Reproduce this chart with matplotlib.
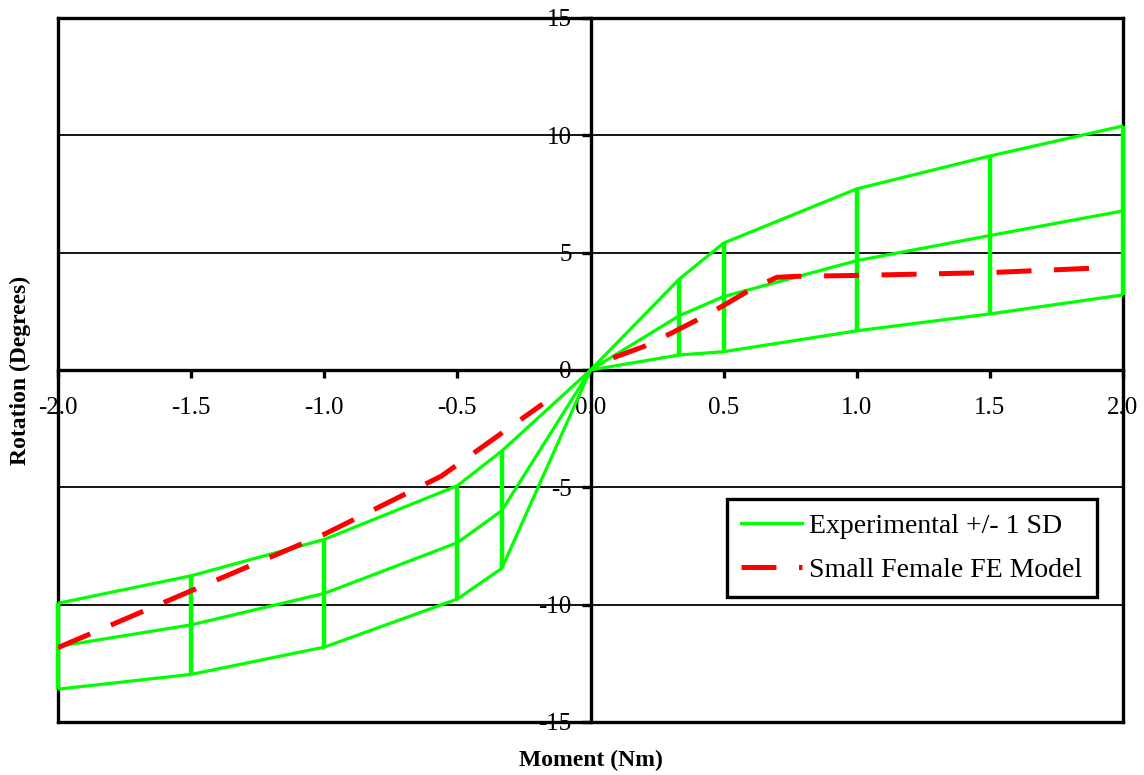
import matplotlib
matplotlib.use("Agg")
import matplotlib.pyplot as plt
import numpy as np

# ---- data ----
moment = [-2.0, -1.5, -1.0, -0.5, -0.333, 0.0, 0.333, 0.5, 1.0, 1.5, 2.0]
exp_mean = [-11.78, -10.86, -9.52, -7.36, -5.99, 0.0, 2.31, 3.13, 4.66, 5.73, 6.78]
exp_upper = [-9.94, -8.77, -7.22, -4.93, -3.45, 0.0, 3.87, 5.41, 7.72, 9.12, 10.40]
exp_lower = [-13.60, -12.97, -11.81, -9.76, -8.45, 0.0, 0.64, 0.78, 1.67, 2.39, 3.20]

fe_moment_neg = [-2.0, -1.5, -1.0, -0.56, -0.18]
fe_rot_neg = [-11.83, -9.41, -7.0, -4.52, -1.45]
fe_moment_pos = [0.085, 0.2, 0.3, 0.4, 0.5, 0.6, 0.7, 0.77, 1.0, 1.5, 1.91]
fe_rot_pos = [0.52, 1.0, 1.55, 2.13, 2.75, 3.42, 3.95, 3.99, 4.03, 4.15, 4.35]

xticks = [-2.0, -1.5, -1.0, -0.5, 0.0, 0.5, 1.0, 1.5, 2.0]
yticks = [-15, -10, -5, 0, 5, 10, 15]

plt.rcParams['font.family'] = ['Liberation Serif', 'DejaVu Serif']

fig = plt.figure(figsize=(11.44, 7.75), dpi=100)
ax = fig.add_axes([58/1144, 53/775, (1123-58)/1144, (722-18)/775])

green = '#00FF00'
red = '#FF0000'

# gridlines
for yv in [-10, -5, 5, 10]:
    ax.axhline(yv, color='black', lw=1.3, zorder=1)

# experimental
mean_line, = ax.plot(moment, exp_mean, color=green, lw=2.3, zorder=3,
                     label='Experimental +/- 1 SD')
ax.plot(moment, exp_upper, color=green, lw=2.3, zorder=3)
ax.plot(moment, exp_lower, color=green, lw=2.3, zorder=3)
idx = [i for i, m in enumerate(moment) if m != 0.0]
ax.vlines([moment[i] for i in idx], [exp_lower[i] for i in idx],
          [exp_upper[i] for i in idx], color=green, lw=3.2, zorder=3,
          clip_on=False)

# FE model
fe_ls = (0, (7, 4.5))
ax.plot(fe_moment_neg, fe_rot_neg, color=red, lw=3.6, linestyle=fe_ls,
        zorder=4, label='Small Female FE Model')
ax.plot(fe_moment_pos, fe_rot_pos, color=red, lw=3.6, linestyle=fe_ls,
        zorder=4)

ax.set_xlim(-2, 2)
ax.set_ylim(-15, 15)

# spines
ax.spines['left'].set_position(('data', 0))
ax.spines['bottom'].set_position(('data', 0))
for s in ['left', 'bottom', 'top', 'right']:
    ax.spines[s].set_linewidth(2.4)
    ax.spines[s].set_color('black')
    ax.spines[s].set_zorder(2)
# outer frame left/bottom
ax.plot([0, 0], [0, 1], transform=ax.transAxes, color='black', lw=2.4,
        clip_on=False, zorder=2, solid_capstyle='projecting')
ax.plot([0, 1], [0, 0], transform=ax.transAxes, color='black', lw=2.4,
        clip_on=False, zorder=2, solid_capstyle='projecting')

ax.set_xticks(xticks)
ax.set_xticklabels([f'{v:.1f}' for v in xticks])
ax.set_yticks(yticks)
ax.set_yticklabels([str(v) for v in yticks])
ax.tick_params(axis='x', direction='out', length=6, width=2.4, labelsize=18,
               pad=13.5)
ax.tick_params(axis='y', direction='out', length=6.5, width=2.4, labelsize=18,
               pad=7)

fig.text(591/1144, 1 - 760/775, 'Moment (Nm)', ha='center', va='center',
         fontsize=17, fontweight='bold')
fig.text(20/1144, 1 - 370/775, 'Rotation (Degrees)', ha='center',
         va='center', rotation=90, fontsize=17, fontweight='bold')

leg = ax.legend(loc='upper left', bbox_to_anchor=(0.628, 0.317),
                fontsize=20, frameon=True, fancybox=False, framealpha=1,
                edgecolor='black', handlelength=2.2, handletextpad=0.25,
                borderpad=0.52, labelspacing=0.68, borderaxespad=0)
leg.get_frame().set_linewidth(2.4)
leg.set_zorder(5)

fig.savefig('out.png', dpi=100)
